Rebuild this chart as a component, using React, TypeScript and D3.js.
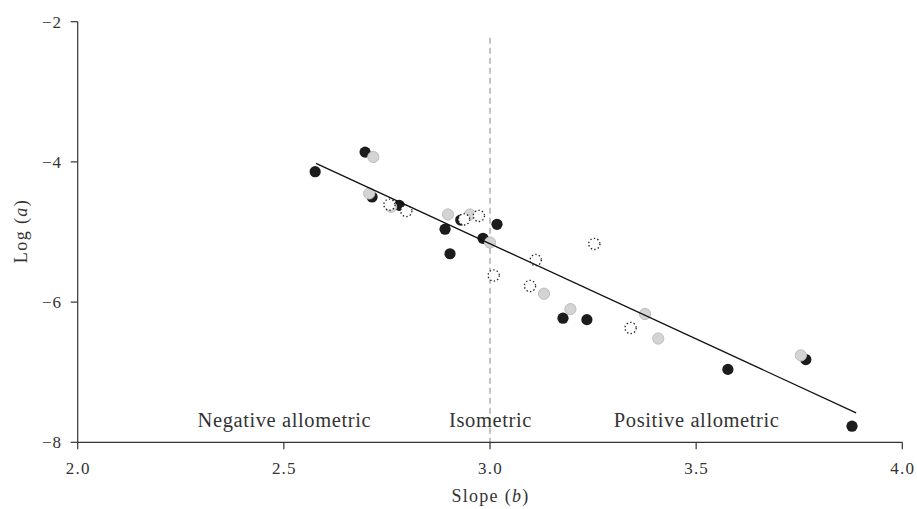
import React from "react";
import * as d3 from "d3";

const xTicks = [2.0, 2.5, 3.0, 3.5, 4.0];
const yTicks = [-2, -4, -6, -8];

const blackX = [2.576, 2.697, 2.714, 2.78, 2.891, 2.903, 2.983, 3.017, 2.929, 3.177, 3.235, 3.577, 3.766, 3.878];
const blackY = [-4.14, -3.86, -4.5, -4.62, -4.96, -5.31, -5.09, -4.89, -4.83, -6.23, -6.25, -6.96, -6.82, -7.77];

const greyX = [2.717, 2.707, 2.76, 2.898, 2.951, 3.0, 3.131, 3.195, 3.376, 3.408, 3.754];
const greyY = [-3.93, -4.45, -4.64, -4.75, -4.75, -5.15, -5.88, -6.1, -6.17, -6.52, -6.76];

const dashX = [2.756, 2.797, 2.937, 2.973, 3.009, 3.111, 3.097, 3.253, 3.341];
const dashY = [-4.61, -4.7, -4.82, -4.77, -5.62, -5.4, -5.77, -5.17, -6.37];

const fitX = [2.578, 3.888];
const fitY = [-4.02, -7.58];

const zones = ["Negative allometric", "Isometric", "Positive allometric"];
const zoneX = [2.5, 3.0, 3.5];

export default function App() {
  const W = 917, H = 509;
  const x = d3.scaleLinear().domain([2, 4]).range([77.7, 902.3]);
  const y = d3.scaleLinear().domain([-2, -8]).range([21.7, 442.3]);
  const axisColor = "#333";
  const font = "'Liberation Serif', 'DejaVu Serif', serif";
  const r = 5.6;
  const line = d3.line<[number, number]>().x(d => x(d[0])).y(d => y(d[1]));
  const fitPts: [number, number][] = fitX.map((v, i) => [v, fitY[i]]);
  return (
    <svg width={W} height={H} style={{ position: "absolute", left: 0, top: 0, background: "#fff" }} fontFamily={font}>
      {/* dashed isometric line */}
      <line x1={x(3)} x2={x(3)} y1={y(-2.23)} y2={y(-8)} stroke="#9a9a9a" strokeWidth={1.2} strokeDasharray="6,4" />
      {/* axes */}
      <line x1={x(2)} x2={x(2)} y1={y(-2)} y2={y(-8)} stroke={axisColor} strokeWidth={1.2} />
      <line x1={x(2)} x2={x(4)} y1={y(-8)} y2={y(-8)} stroke={axisColor} strokeWidth={1.2} />
      {yTicks.map(t => (
        <g key={"yt" + t}>
          <line x1={x(2) - 7} x2={x(2)} y1={y(t)} y2={y(t)} stroke={axisColor} strokeWidth={1.2} />
          <text x={62} y={y(t)} dy="0.35em" textAnchor="end" fontSize={17} letterSpacing={1} fill="#333">{"\u2212" + Math.abs(t)}</text>
        </g>
      ))}
      {xTicks.map(t => (
        <g key={"xt" + t}>
          <line x1={x(t)} x2={x(t)} y1={y(-8)} y2={y(-8) + 7} stroke={axisColor} strokeWidth={1.2} />
          <text x={x(t) + 0.5} y={474} textAnchor="middle" fontSize={17} letterSpacing={1.2} fill="#333">{t.toFixed(1)}</text>
        </g>
      ))}
      <text x={x(3) + 0.5} y={502} textAnchor="middle" fontSize={18} letterSpacing={1.3} fill="#333">Slope (<tspan fontStyle="italic">b</tspan>)</text>
      <text transform={`translate(27,${y(-5) - 1}) rotate(-90)`} textAnchor="middle" fontSize={18} letterSpacing={1.4} fill="#333">Log (<tspan fontStyle="italic">a</tspan>)</text>
      {zones.map((z, i) => (
        <text key={z} x={x(zoneX[i]) + 0.5} y={427} textAnchor="middle" fontSize={20.5} letterSpacing={0.6} fill="#333">{z}</text>
      ))}
      {blackX.map((v, i) => (
        <circle key={"b" + i} cx={x(v)} cy={y(blackY[i])} r={r} fill="#1c1c1c" />
      ))}
      {greyX.map((v, i) => (
        <circle key={"g" + i} cx={x(v)} cy={y(greyY[i])} r={r} fill="#d4d4d4" stroke="#bdbdbd" strokeWidth={1} />
      ))}
      {dashX.map((v, i) => (
        <circle key={"d" + i} cx={x(v)} cy={y(dashY[i])} r={r} fill="#fff" stroke="#222" strokeWidth={1.3} strokeDasharray="1.4,2.2" />
      ))}
      <path d={line(fitPts) || ""} stroke="#111" strokeWidth={1.3} fill="none" />
    </svg>
  );
}
